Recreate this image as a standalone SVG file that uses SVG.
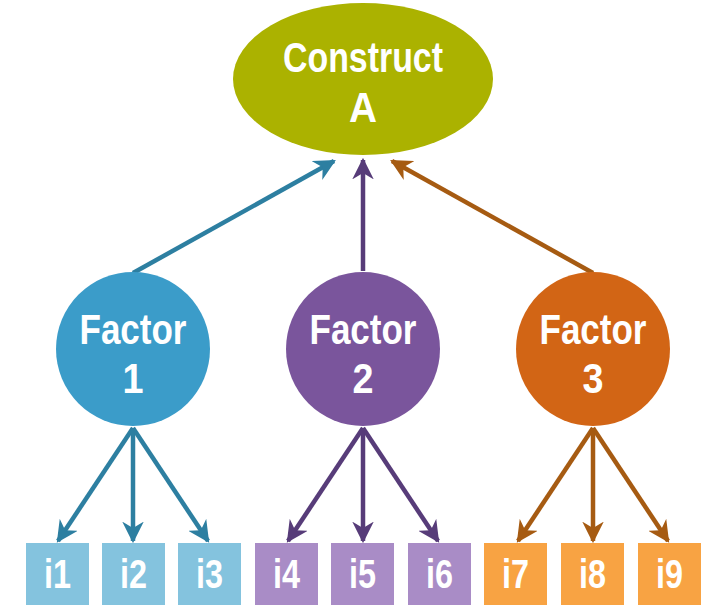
<svg xmlns="http://www.w3.org/2000/svg" width="715" height="605" viewBox="0 0 715 605">
  <style>
    .lbl { font-family: "Liberation Sans", Arial, sans-serif; font-weight: bold; fill: #ffffff; text-anchor: middle; }
    .big { font-size: 42px; }
    .fac { font-size: 43px; }
    .item { font-size: 40px; }
    .edge { fill: none; stroke-width: 4.5; }
    .blue { stroke: #2d7fa1; }
    .purple { stroke: #573c79; }
    .brown { stroke: #a65b12; }
  </style>
  <defs>
    <marker id="ahBlue" viewBox="0 0 10 10" refX="9" refY="5" markerWidth="4.8" markerHeight="4.8" orient="auto" markerUnits="strokeWidth">
      <path d="M0,0 L10,5 L0,10 L3,5 z" fill="#2d7fa1"/>
    </marker>
    <marker id="ahPurple" viewBox="0 0 10 10" refX="9" refY="5" markerWidth="4.8" markerHeight="4.8" orient="auto" markerUnits="strokeWidth">
      <path d="M0,0 L10,5 L0,10 L3,5 z" fill="#573c79"/>
    </marker>
    <marker id="ahBrown" viewBox="0 0 10 10" refX="9" refY="5" markerWidth="4.8" markerHeight="4.8" orient="auto" markerUnits="strokeWidth">
      <path d="M0,0 L10,5 L0,10 L3,5 z" fill="#a65b12"/>
    </marker>
  </defs>

  <rect width="715" height="605" fill="#ffffff"/>

  <!-- connectors -->
  <g id="connectors">
    <line class="edge blue" x1="133" y1="273" x2="334" y2="161" marker-end="url(#ahBlue)"/>
    <line class="edge purple" x1="363" y1="271" x2="363" y2="160" marker-end="url(#ahPurple)"/>
    <line class="edge brown" x1="593" y1="273" x2="392" y2="161" marker-end="url(#ahBrown)"/>

    <line class="edge blue" x1="133" y1="428" x2="58" y2="541" marker-end="url(#ahBlue)"/>
    <line class="edge blue" x1="133" y1="428" x2="133" y2="541" marker-end="url(#ahBlue)"/>
    <line class="edge blue" x1="133" y1="428" x2="208" y2="541" marker-end="url(#ahBlue)"/>

    <line class="edge purple" x1="363" y1="428" x2="288" y2="541" marker-end="url(#ahPurple)"/>
    <line class="edge purple" x1="363" y1="428" x2="363" y2="541" marker-end="url(#ahPurple)"/>
    <line class="edge purple" x1="363" y1="428" x2="438" y2="541" marker-end="url(#ahPurple)"/>

    <line class="edge brown" x1="593" y1="428" x2="518" y2="541" marker-end="url(#ahBrown)"/>
    <line class="edge brown" x1="593" y1="428" x2="593" y2="541" marker-end="url(#ahBrown)"/>
    <line class="edge brown" x1="593" y1="428" x2="668" y2="541" marker-end="url(#ahBrown)"/>
  </g>

  <!-- construct -->
  <g id="constructA">
    <ellipse cx="363" cy="79" rx="130" ry="76" fill="#abb200"/>
    <text class="lbl big" x="363" y="72" textLength="160" lengthAdjust="spacingAndGlyphs">Construct</text>
    <text class="lbl big" x="363" y="122" textLength="28" lengthAdjust="spacingAndGlyphs">A</text>
  </g>

  <!-- factors -->
  <g id="factor1">
    <circle cx="133" cy="349" r="77" fill="#3b9cc9"/>
    <text class="lbl fac" x="133" y="344" textLength="107" lengthAdjust="spacingAndGlyphs">Factor</text>
    <text class="lbl fac" x="133" y="393" textLength="21" lengthAdjust="spacingAndGlyphs">1</text>
  </g>
  <g id="factor2">
    <circle cx="363" cy="349" r="77" fill="#7a559c"/>
    <text class="lbl fac" x="363" y="344" textLength="107" lengthAdjust="spacingAndGlyphs">Factor</text>
    <text class="lbl fac" x="363" y="393" textLength="21" lengthAdjust="spacingAndGlyphs">2</text>
  </g>
  <g id="factor3">
    <circle cx="593" cy="349" r="77" fill="#d26515"/>
    <text class="lbl fac" x="593" y="344" textLength="107" lengthAdjust="spacingAndGlyphs">Factor</text>
    <text class="lbl fac" x="593" y="393" textLength="21" lengthAdjust="spacingAndGlyphs">3</text>
  </g>

  <!-- items -->
  <g id="i1"><rect x="26" y="543" width="63" height="70" fill="#84c3de"/><text class="lbl item" x="57.5" y="588" textLength="27" lengthAdjust="spacingAndGlyphs">i1</text></g>
  <g id="i2"><rect x="102" y="543" width="63" height="70" fill="#84c3de"/><text class="lbl item" x="133.5" y="588" textLength="27" lengthAdjust="spacingAndGlyphs">i2</text></g>
  <g id="i3"><rect x="178" y="543" width="63" height="70" fill="#84c3de"/><text class="lbl item" x="209.5" y="588" textLength="27" lengthAdjust="spacingAndGlyphs">i3</text></g>
  <g id="i4"><rect x="255" y="543" width="63" height="70" fill="#a98cc6"/><text class="lbl item" x="286.5" y="588" textLength="27" lengthAdjust="spacingAndGlyphs">i4</text></g>
  <g id="i5"><rect x="331" y="543" width="63" height="70" fill="#a98cc6"/><text class="lbl item" x="362.5" y="588" textLength="27" lengthAdjust="spacingAndGlyphs">i5</text></g>
  <g id="i6"><rect x="408" y="543" width="63" height="70" fill="#a98cc6"/><text class="lbl item" x="439.5" y="588" textLength="27" lengthAdjust="spacingAndGlyphs">i6</text></g>
  <g id="i7"><rect x="484" y="543" width="63" height="70" fill="#f8a343"/><text class="lbl item" x="515.5" y="588" textLength="27" lengthAdjust="spacingAndGlyphs">i7</text></g>
  <g id="i8"><rect x="561" y="543" width="63" height="70" fill="#f8a343"/><text class="lbl item" x="592.5" y="588" textLength="27" lengthAdjust="spacingAndGlyphs">i8</text></g>
  <g id="i9"><rect x="638" y="543" width="63" height="70" fill="#f8a343"/><text class="lbl item" x="669.5" y="588" textLength="27" lengthAdjust="spacingAndGlyphs">i9</text></g>
</svg>
